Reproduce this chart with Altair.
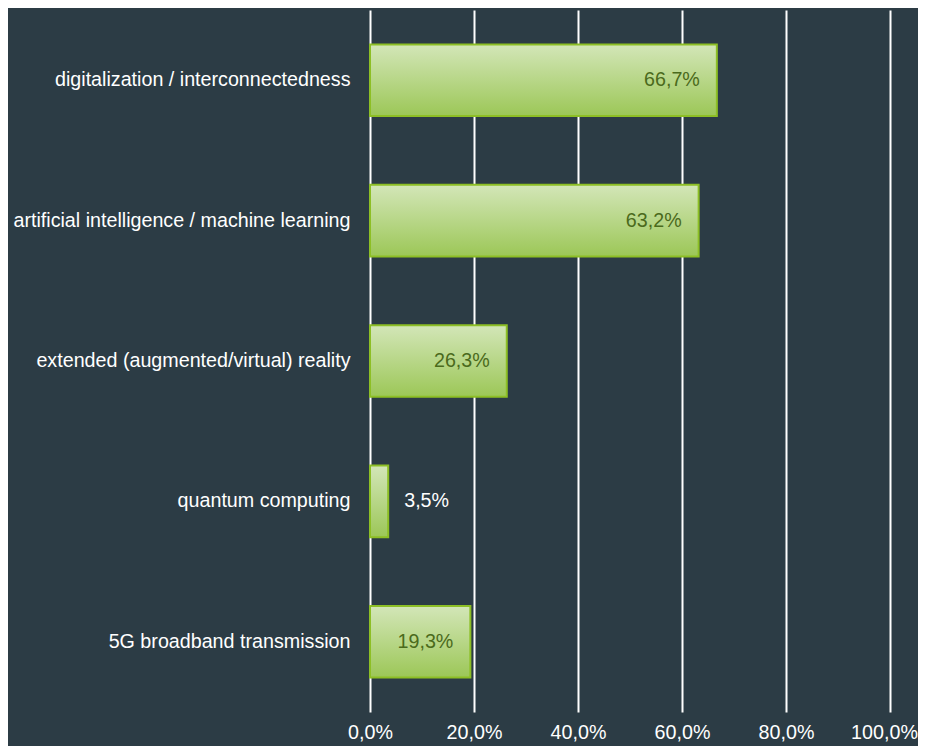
import altair as alt
import pandas as pd

categories = [
    "digitalization / interconnectedness",
    "artificial intelligence / machine learning",
    "extended (augmented/virtual) reality",
    "quantum computing",
    "5G broadband transmission",
]
values = [66.7, 63.2, 26.3, 3.5, 19.3]
labels = ["66,7%", "63,2%", "26,3%", "3,5%", "19,3%"]
ticks = [0, 20, 40, 60, 80, 100]

df = pd.DataFrame({"cat": categories, "value": values, "label": labels,
                   "inside": [v >= 10 for v in values]})

FONT = "Liberation Sans Narrow, Arial Narrow, Liberation Sans"
BG = "#2c3c45"

y_enc = alt.Y("cat:N", sort=categories, title=None,
              scale=alt.Scale(paddingInner=0.49, paddingOuter=0.245),
              axis=alt.Axis(labelColor="white", labelFont=FONT, labelFontSize=19.7,
                            labelPadding=20, ticks=False, domain=False, grid=False,
                            labelLimit=400))

x_scale = alt.Scale(domain=[0, 100], nice=False)

grad = alt.LinearGradient(
    gradient="linear",
    stops=[alt.GradientStop(color="#d3e6b8", offset=0),
           alt.GradientStop(color="#9cc757", offset=1)],
    x1=0, x2=0, y1=0, y2=1,
)

bars = alt.Chart(df).mark_bar(fill=grad, stroke="#8dbf25", strokeWidth=2).encode(
    x=alt.X("value:Q", scale=x_scale, title=None,
            axis=alt.Axis(values=ticks, grid=True, gridColor="white", gridWidth=2,
                          gridOpacity=1, domain=False, ticks=False,
                          labelColor="white", labelFont=FONT, labelFontSize=19.7,
                          labelPadding=10, labelFlush=False,
                          labelOffset={"condition": {"test": "datum.value == 100", "value": -6}, "value": 0},
                          labelExpr="replace(format(datum.value, '.1f'), '.', ',') + '%'")),
    y=y_enc,
)

txt_in = alt.Chart(df).transform_filter("datum.inside").mark_text(
    align="right", baseline="middle", dx=-17, font=FONT, fontSize=19.7, color="#4b6a1c"
).encode(x=alt.X("value:Q", scale=x_scale), y=alt.Y("cat:N", sort=categories), text="label:N")

txt_out = alt.Chart(df).transform_filter("!datum.inside").mark_text(
    align="left", baseline="middle", dx=16, font=FONT, fontSize=19.7, color="white"
).encode(x=alt.X("value:Q", scale=x_scale), y=alt.Y("cat:N", sort=categories), text="label:N")

chart = alt.layer(bars, txt_in, txt_out).properties(
    width=520, height=702,
    background=BG,
    autosize=alt.AutoSizeParams(type="none"),
    padding={"left": 362, "top": 2, "right": 28, "bottom": 34},
).configure_view(stroke=None)

chart.save("out.html", embed_options={"renderer": "svg", "actions": False})
